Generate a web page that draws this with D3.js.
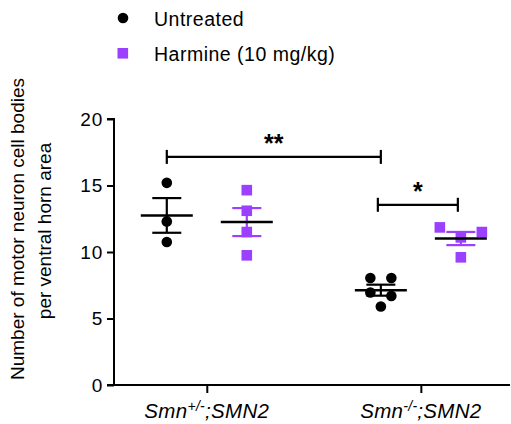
<!DOCTYPE html>
<html>
<head>
<meta charset="utf-8">
<script src="https://cdn.jsdelivr.net/npm/d3@7"></script>
<style>
    body { margin: 0; background: #fff; }
    svg { display: block; font-family: "Liberation Sans", Arial, sans-serif; }
</style>
</head>
<body>
<svg width="511" height="424"></svg>
<script>
var groups = ["het", "ko"];
var series = ["Untreated", "Harmine (10 mg/kg)"];
var yTicks = [0, 5, 10, 15, 20];

// cell bodies per ventral horn, one array per column
var untreatedHet = [15.2, 12.3, 10.75];
var harmineHet = [14.65, 13.1, 11.5, 9.75];
var untreatedKo = [8.05, 8.05, 6.95, 6.7, 5.9];
var harmineKo = [11.85, 11.5, 11.1, 9.6];
// horizontal nudge of overlapping points (in marker widths)
var nudgeUntreatedKo = [-1, 1, -1, 1, 0];
var nudgeHarmineKo = [-2, 2, 0, 0];

var columns = [
    { group: "het", series: series[0], values: untreatedHet, nudge: [0, 0, 0] },
    { group: "het", series: series[1], values: harmineHet, nudge: [0, 0, 0, 0] },
    { group: "ko", series: series[0], values: untreatedKo, nudge: nudgeUntreatedKo },
    { group: "ko", series: series[1], values: harmineKo, nudge: nudgeHarmineKo }
];

// significance: [from column, to column, height, label]
var brackets = [
    [0, 2, 17.15, "**"],
    [2, 3, 13.55, "*"]
];

var purple = "#9b40ff";
var colors = {};
colors[series[0]] = "#000";
colors[series[1]] = purple;

var svg = d3.select("svg");
var plotLeft = 114, plotRight = 510, plotTop = 119, plotBottom = 385;

var y = d3.scaleLinear().domain([0, 20]).range([plotBottom, plotTop]);
var x = d3.scalePoint().domain(groups).range([plotLeft, plotRight]).padding(0.425).align(0.51);
var dx = d3.scalePoint().domain(series).range([-40, 40]);

function colX(c) {
    return x(c.group) + dx(c.series);
}

// axes
var yAxis = svg.append("g")
    .attr("transform", "translate(" + plotLeft + ",0)")
    .call(d3.axisLeft(y).tickValues(yTicks).tickSize(7).tickPadding(4));
var xAxis = svg.append("g")
    .attr("transform", "translate(0," + plotBottom + ")")
    .call(d3.axisBottom(x).tickSize(8).tickFormat(""));

[yAxis, xAxis].forEach(function (a) {
    a.select(".domain").attr("stroke-width", 2).attr("stroke", "#000");
    a.selectAll(".tick line").attr("stroke-width", 2);
});
yAxis.select(".domain").attr("d", "M-7," + plotTop + "H0V" + plotBottom + "H-7");
xAxis.select(".domain").attr("d", "M" + plotLeft + ",0H" + plotRight);
yAxis.selectAll(".tick text")
    .attr("font-size", 19)
    .attr("letter-spacing", 0.8)
    .attr("fill", "#000")
    .attr("font-family", "Liberation Sans, Arial, sans-serif");

// category labels with superscripts
var catLabels = svg.append("g");
groups.forEach(function (g, i) {
    var t = catLabels.append("text")
        .attr("x", x(g))
        .attr("y", 418)
        .attr("text-anchor", "middle")
        .attr("font-size", 20.5)
        .attr("letter-spacing", 0.3)
        .attr("font-style", "italic");
    t.append("tspan").text("Smn");
    t.append("tspan").attr("font-size", 14).attr("dy", -7).text(i == 0 ? "+/-" : "-/-");
    t.append("tspan").attr("dy", 7).text(";SMN2");
});

// y label
svg.append("text")
    .attr("transform", "translate(24,229)rotate(-90)")
    .attr("text-anchor", "middle")
    .attr("font-size", 19)
    .text("Number of motor neuron cell bodies");
svg.append("text")
    .attr("transform", "translate(51,231)rotate(-90)")
    .attr("text-anchor", "middle")
    .attr("font-size", 19)
    .text("per ventral horn area");

// points
var cols = svg.append("g").selectAll("g")
    .data(columns).enter().append("g");

cols.each(function (c) {
    var g = d3.select(this);
    var cx = colX(c);
    var pts = c.values.map(function (v, i) {
        return { v: v, x: cx + c.nudge[i] * 10.5 };
    });
    if (c.series == series[0]) {
        g.selectAll("circle").data(pts).enter().append("circle")
            .attr("cx", function (d) { return d.x; })
            .attr("cy", function (d) { return y(d.v); })
            .attr("r", 5.3)
            .attr("fill", "#000");
    } else {
        g.selectAll("rect").data(pts).enter().append("rect")
            .attr("x", function (d) { return d.x - 5.3; })
            .attr("y", function (d) { return y(d.v) - 5.3; })
            .attr("width", 10.6)
            .attr("height", 10.6)
            .attr("fill", purple);
    }
});

// mean and SEM
cols.each(function (c) {
    var g = d3.select(this);
    var cx = colX(c);
    var m = d3.mean(c.values);
    var sem = d3.deviation(c.values) / Math.sqrt(c.values.length);
    var col = colors[c.series];
    g.append("line")
        .attr("x1", cx).attr("x2", cx)
        .attr("y1", y(m + sem)).attr("y2", y(m - sem))
        .attr("stroke", col).attr("stroke-width", 2.2);
    [m + sem, m - sem].forEach(function (v) {
        g.append("line")
            .attr("x1", cx - 14.5).attr("x2", cx + 14.5)
            .attr("y1", y(v)).attr("y2", y(v))
            .attr("stroke", col).attr("stroke-width", 2.2);
    });
    g.append("line")
        .attr("x1", cx - 26).attr("x2", cx + 26)
        .attr("y1", y(m)).attr("y2", y(m))
        .attr("stroke", "#000").attr("stroke-width", 2.5);
});

// significance brackets
brackets.forEach(function (b) {
    var x1 = colX(columns[b[0]]), x2 = colX(columns[b[1]]);
    if (b[0] == 2 && b[1] == 3) { x1 -= 3; x2 -= 3; }
    var yy = y(b[2]);
    var g = svg.append("g").attr("stroke", "#000").attr("stroke-width", 2.2);
    g.append("line").attr("x1", x1).attr("x2", x2).attr("y1", yy).attr("y2", yy);
    g.append("line").attr("x1", x1).attr("x2", x1).attr("y1", yy - 7).attr("y2", yy + 7);
    g.append("line").attr("x1", x2).attr("x2", x2).attr("y1", yy - 7).attr("y2", yy + 7);
    svg.append("text")
        .attr("x", (x1 + x2) / 2)
        .attr("y", yy - 5)
        .attr("text-anchor", "middle")
        .attr("font-size", 25)
        .attr("font-weight", "bold")
        .text(b[3]);
});

// legend
var legend = svg.append("g");
series.forEach(function (s, i) {
    var ly = 18 + i * 35;
    if (i == 0) {
        legend.append("circle").attr("cx", 123).attr("cy", ly).attr("r", 5.3).attr("fill", "#000");
    } else {
        legend.append("rect").attr("x", 117.5).attr("y", ly - 5).attr("width", 10.6).attr("height", 10.6).attr("fill", purple);
    }
    legend.append("text")
        .attr("x", 154)
        .attr("y", ly + 7.5)
        .attr("font-size", 19.5)
        .attr("letter-spacing", 0.5)
        .text(s);
});
</script>
</body>
</html>
